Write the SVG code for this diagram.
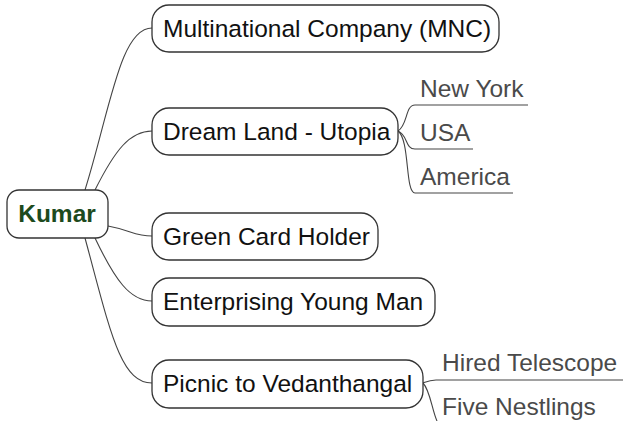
<svg xmlns="http://www.w3.org/2000/svg" width="623" height="421" viewBox="0 0 623 421">
<style>
.box{fill:#fff;stroke:#333;stroke-width:1.3}
.t{font-family:"Liberation Sans",Arial,sans-serif;font-size:24.5px;fill:#111}
.s{font-family:"Liberation Sans",Arial,sans-serif;font-size:24.5px;fill:#4a4a4a}
.c{fill:none;stroke:#444;stroke-width:1.1}
</style>
<rect width="623" height="421" fill="#fff"/>
<g id="connectors">
<path class="c" d="M85 190 C110 110 120 28 152 28"/>
<path class="c" d="M95 190 C115 150 130 131 152 131"/>
<path class="c" d="M108 226 C130 230 135 236 152 236"/>
<path class="c" d="M95 238 C115 280 130 301 152 301"/>
<path class="c" d="M85 238 C110 330 120 383 152 383"/>
<path class="c" d="M398 131 C408 125 405 105 415 105"/>
<path class="c" d="M398 131 C408 135 405 149 415 149"/>
<path class="c" d="M398 131 C410 140 405 193 415 193"/>
<path class="c" d="M423 383 C428 381 430 380 436 380"/>
<path class="c" d="M423 383 C430 390 432 410 437 421"/>
<path class="c" d="M415 105 H528"/>
<path class="c" d="M415 149 H473"/>
<path class="c" d="M415 193 H513"/>
<path class="c" d="M436 380 H623"/>
</g>
<g id="kumar">
<rect class="box" x="7" y="190" width="101" height="48" rx="12" stroke-width="1.8"/>
<text x="57" y="222" text-anchor="middle" style="font-family:'Liberation Sans',Arial,sans-serif;font-size:24.5px;font-weight:bold;fill:#1d4a1d">Kumar</text>
</g>
<g id="mnc">
<rect class="box" x="152" y="5" width="347" height="47" rx="17"/>
<text class="t" x="163" y="37">Multinational Company (MNC)</text>
</g>
<g id="dream">
<rect class="box" x="152" y="108" width="246" height="47" rx="17"/>
<text class="t" x="163" y="140">Dream Land - Utopia</text>
</g>
<g id="newyork"><text class="s" x="420" y="97">New York</text></g>
<g id="usa"><text class="s" x="420" y="141">USA</text></g>
<g id="america"><text class="s" x="420" y="185">America</text></g>
<g id="green">
<rect class="box" x="152" y="213" width="226" height="47" rx="17"/>
<text class="t" x="163" y="245">Green Card Holder</text>
</g>
<g id="enterprising">
<rect class="box" x="152" y="278" width="283" height="48" rx="17"/>
<text class="t" x="163" y="310">Enterprising Young Man</text>
</g>
<g id="picnic">
<rect class="box" x="152" y="360" width="271" height="48" rx="17"/>
<text class="t" x="163" y="392">Picnic to Vedanthangal</text>
</g>
<g id="telescope"><text class="s" x="442" y="371">Hired Telescope</text></g>
<g id="nestlings"><text class="s" x="442" y="415">Five Nestlings</text></g>
</svg>
